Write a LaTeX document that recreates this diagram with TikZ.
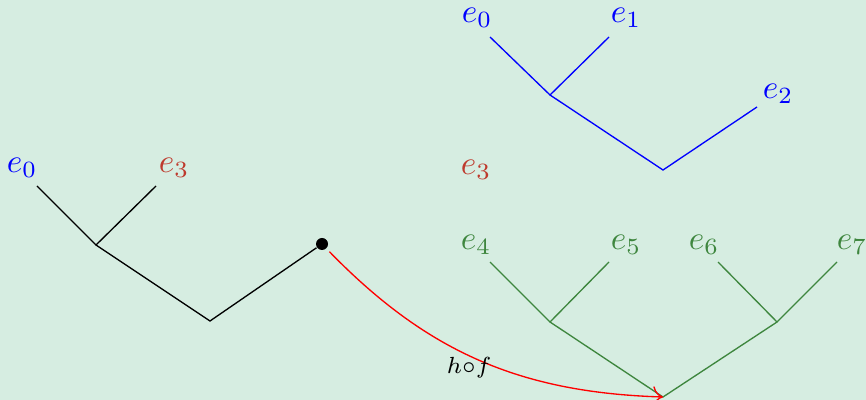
\documentclass[tikz,border=0pt]{standalone}
\usetikzlibrary{arrows.meta}
\definecolor{bgc}{RGB}{214,237,225}
\definecolor{treegreen}{RGB}{62,134,62}
\definecolor{labred}{RGB}{190,58,45}
\begin{document}
\begin{tikzpicture}[x=0.3pt,y=-0.3pt,
  edge/.style={line width=0.4pt},
  lab/.style={inner sep=0pt},
  arr/.style={red,line width=0.4pt,-{To[length=3pt]}}]
\fill[bgc] (0,0) rectangle (866,400);
\useasboundingbox (0,0) rectangle (866,400);
% top blue tree
\coordinate (bl0) at (490,37);
\coordinate (bl1) at (609,37);
\coordinate (bl2) at (757,107);
\coordinate (bi) at (550,95);
\coordinate (br) at (663,170);
\node[lab,blue] (be0) at (477,18) {$e_0$};
\node[lab,blue] (be1) at (626,18) {$e_1$};
\node[lab,blue] (be2) at (778,94) {$e_2$};
\draw[edge,blue] (bl0) -- (bi) -- (bl1);
\draw[edge,blue] (bi) -- (br) -- (bl2);
\node[lab,labred] (re3) at (476,170) {$e_3$};
% left black tree
\coordinate (kl0) at (37,186);
\coordinate (kl1) at (156,186);
\coordinate (ki) at (96,245);
\coordinate (kr) at (210,321);
\node[circle,fill=black,inner sep=0pt,minimum size=3.6pt] (dot) at (322,244) {};
\node[lab,blue] (ke0) at (22,168) {$e_0$};
\node[lab,labred] (ke3) at (174,168) {$e_3$};
\draw[edge] (kl0) -- (ki) -- (kl1);
\draw[edge] (ki) -- (kr) -- (dot);
% green tree
\coordinate (g4) at (490,262);
\coordinate (g5) at (609,262);
\coordinate (g6) at (718,262);
\coordinate (g7) at (837,262);
\coordinate (gi1) at (550,322);
\coordinate (gi2) at (777,322);
\coordinate (gr) at (663,397);
\node[lab,treegreen] (ge4) at (476,245) {$e_4$};
\node[lab,treegreen] (ge5) at (626,245) {$e_5$};
\node[lab,treegreen] (ge6) at (704,245) {$e_6$};
\node[lab,treegreen] (ge7) at (852,245) {$e_7$};
\draw[edge,treegreen] (g4) -- (gi1) -- (g5);
\draw[edge,treegreen] (g6) -- (gi2) -- (g7);
\draw[edge,treegreen] (gi1) -- (gr) -- (gi2);
% arrow
\draw[arr,shorten <=1.2pt] (dot) to[bend right=22] (gr);
\node[lab] (hf) at (469,368) {\scriptsize$h{\circ}f$};
\end{tikzpicture}
\end{document}
